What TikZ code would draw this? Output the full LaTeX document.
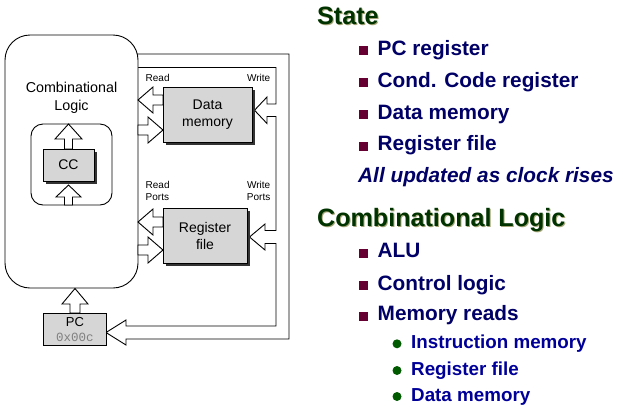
\documentclass[tikz,border=0pt]{standalone}
\usepackage{fontspec}
\setmainfont{Liberation Sans}
\newfontfamily\monof{Liberation Mono}
\usetikzlibrary{shadows}
\definecolor{boxgray}{RGB}{214,214,214}
\definecolor{hdgreen}{RGB}{0,51,0}
\definecolor{hdshadow}{RGB}{165,165,120}
\definecolor{navy}{RGB}{0,0,102}
\definecolor{subblue}{RGB}{0,0,153}
\definecolor{maroon}{RGB}{102,0,51}
\definecolor{bgreen}{RGB}{0,90,0}
\begin{document}
\begin{tikzpicture}[x=1pt,y=-1pt,
  ln/.style={line width=0.9pt, line join=miter},
  harrow/.style={ln, draw=black, fill=white},
  box/.style={ln, draw=black, fill=boxgray, inner sep=0pt, align=center, font=\fontsize{14}{17}\selectfont},
  shbox/.style={box, drop shadow={shadow xshift=2.5pt, shadow yshift=-2.5pt, fill=black!80, opacity=1}},
  lbl/.style={inner sep=0pt, font=\fontsize{10}{12}\selectfont},
  item/.style={anchor=base west, inner sep=0pt, text=navy, font=\fontsize{20.8}{24}\selectfont\bfseries},
  subitem/.style={anchor=base west, inner sep=0pt, text=subblue, font=\fontsize{18.8}{22}\selectfont\bfseries},
  heading/.style={anchor=base west, inner sep=0pt, font=\fontsize{25.1}{28}\selectfont\bfseries},
  sqb/.style={fill=maroon, minimum size=9pt, inner sep=0pt, anchor=south west},
  dotb/.style={circle, fill=bgreen, minimum size=9pt, inner sep=0pt},
]
\useasboundingbox (0,0) rectangle (623,408);

% feedback pipe (write paths and next PC)
\draw[ln] (130,67.5) -- (276,67.5) -- (276,104) -- (267,104) -- (267,97) -- (254.5,110.25) -- (267,123.5) -- (267,116.5) -- (276,116.5) -- (276,230.5) -- (265,230.5) -- (265,224) -- (249.5,237) -- (265,250) -- (265,243.5) -- (276,243.5) -- (276,326) -- (126,326) -- (126,320) -- (106,332.5) -- (126,345) -- (126,339) -- (289,339) -- (289,54) -- (130,54);

% combinational logic
\node[ln, draw, fill=white, rounded corners=25pt, minimum width=133pt, minimum height=253pt, inner sep=0pt] (comb) at (71.5,161.5) {};
\node[font=\fontsize{14.3}{18}\selectfont, align=center, inner sep=0pt] (combtxt) at (71.5,98) {Combinational\\Logic};

% read / input arrows
\draw[harrow] (138,100) -- (153,87) -- (153,95) -- (163,95) -- (163,105) -- (153,105) -- (153,113) -- cycle;
\draw[harrow] (163,130) -- (148,117) -- (148,125) -- (138,125) -- (138,135) -- (148,135) -- (148,143) -- cycle;
\draw[harrow] (138,222) -- (153,209) -- (153,217) -- (163,217) -- (163,227) -- (153,227) -- (153,235) -- cycle;
\draw[harrow] (163,250) -- (148,237) -- (148,245) -- (138,245) -- (138,255) -- (148,255) -- (148,263) -- cycle;

% state boxes
\node[shbox, minimum width=89pt, minimum height=55pt] (dmem) at (207.5,114.5) {Data\\memory};
\node[shbox, minimum width=84pt, minimum height=55pt] (rfile) at (205,235.5) {Register\\file};

% CC
\node[ln, draw, rounded corners=12pt, minimum width=81pt, minimum height=81pt, inner sep=0pt] (inner) at (71.5,164.5) {};
\draw[harrow] (68.5,124) -- (82,139) -- (72.5,139) -- (72.5,149) -- (64.5,149) -- (64.5,139) -- (55,139) -- cycle;
\draw[harrow] (68.5,185) -- (81,197) -- (72.5,197) -- (72.5,205) -- (64.5,205) -- (64.5,197) -- (56,197) -- cycle;
\node[shbox, minimum width=51pt, minimum height=32pt] (cc) at (68.5,165) {CC};

% PC
\draw[harrow] (75,288.5) -- (88,304) -- (80,304) -- (80,313) -- (70,313) -- (70,304) -- (62,304) -- cycle;
\node[box, minimum width=63pt, minimum height=32pt] (pc) at (74.5,329) {};
\node[inner sep=0pt, font=\fontsize{13}{15}\selectfont] (pctxt) at (75,322) {PC};
\node[inner sep=0pt, font=\monof\fontsize{12.5}{14}\selectfont, text=black!50] (pcval) at (75,337.5) {0x00c};

% port labels
\node[lbl, anchor=west] (rd1) at (145.5,78) {Read};
\node[lbl, anchor=east] (wr1) at (270.5,78) {Write};
\node[lbl, anchor=west, align=left] (rd2) at (145.5,191) {Read\\Ports};
\node[lbl, anchor=east, align=right] (wr2) at (270.5,191) {Write\\Ports};

% right-hand text
\node[heading, text=hdshadow] (stateS) at (318,25) {State};
\node[heading, text=hdgreen] (state) at (317,24) {State};
\node[sqb] (b1) at (358.5,55) {};
\node[item] (t1) at (377.5,55) {PC register};
\node[sqb] (b2) at (358.5,87.3) {};
\node[item] (t2) at (377.5,87.3) {Cond. Code register};
\node[sqb] (b3) at (358.5,119.3) {};
\node[item] (t3) at (377.5,119.3) {Data memory};
\node[sqb] (b4) at (358.5,150.7) {};
\node[item] (t4) at (377.5,150.7) {Register file};
\node[item, font=\fontsize{20.8}{24}\selectfont\bfseries\itshape] (t5) at (358,182.7) {All updated as clock rises};

\node[heading, text=hdshadow] (combS) at (318,227) {Combinational Logic};
\node[heading, text=hdgreen] (combH) at (317,226) {Combinational Logic};
\node[sqb] (c1) at (358.5,257.7) {};
\node[item] (u1) at (377.5,257.7) {ALU};
\node[sqb] (c2) at (358.5,290) {};
\node[item] (u2) at (377.5,290) {Control logic};
\node[sqb] (c3) at (358.5,320.7) {};
\node[item] (u3) at (377.5,320.7) {Memory reads};
\node[dotb] (d1) at (397,343.8) {};
\node[subitem] (s1) at (411,348.3) {Instruction memory};
\node[dotb] (d2) at (397,370.5) {};
\node[subitem] (s2) at (411,375) {Register file};
\node[dotb] (d3) at (397,396.5) {};
\node[subitem] (s3) at (411,401) {Data memory};
\end{tikzpicture}
\end{document}
